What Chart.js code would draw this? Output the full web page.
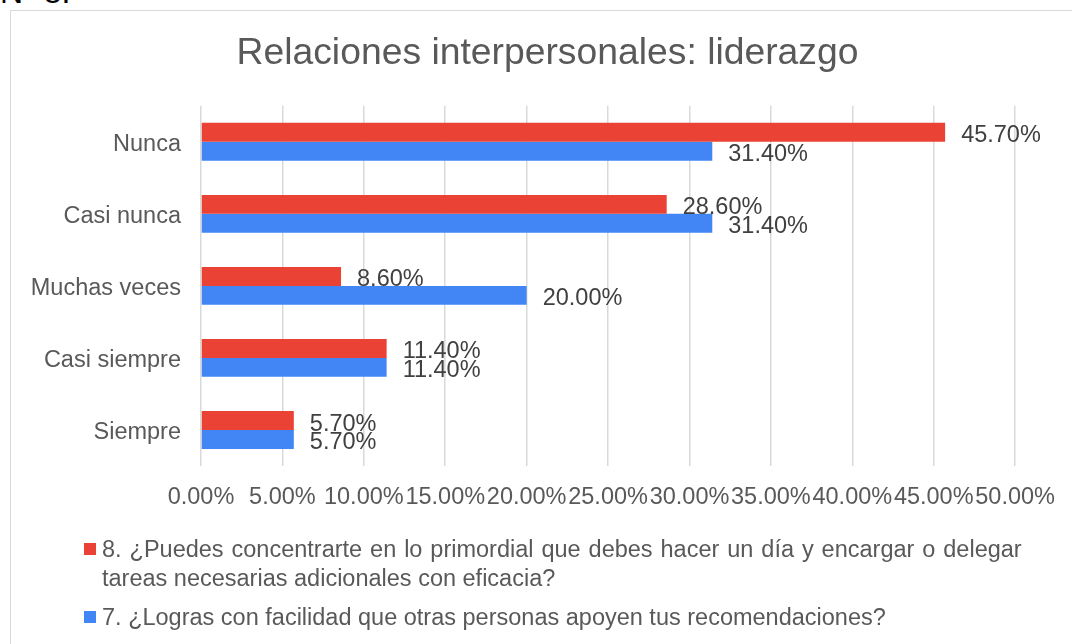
<!DOCTYPE html>
<html>
<head>
<meta charset="utf-8">
<script src="https://cdn.jsdelivr.net/npm/chart.js@4.4.1/dist/chart.umd.min.js"></script>
<style>
  html, body { margin: 0; padding: 0; background: #fff; }
  body { width: 1072px; height: 644px; overflow: hidden; position: relative;
         font-family: 'Liberation Sans', Arial, sans-serif; }
  #frame { position: absolute; left: 10px; top: 10px; width: 1100px; height: 700px;
           border: 1px solid #D9D9D9; box-sizing: border-box; }
  #caption { position: absolute; left: 0; top: -24px; font-size: 32px; line-height: 32px; color: #000; white-space: nowrap; }
  #chart { position: absolute; left: 0; top: 0; }
  #legend { position: absolute; left: 0; top: 0; width: 1072px; color: #595959; font-size: 23.5px; line-height: 29px; }
  .item { position: absolute; left: 102px; white-space: nowrap; }
  .sw { position: absolute; left: -18px; top: 8.5px; width: 12px; height: 12px; }
  .wide { word-spacing: 1.4px; }
</style>
</head>
<body>
<div id="frame"></div>
<div id="caption">Nº 8.</div>
<canvas id="chart" width="1072" height="644"></canvas>
<div id="legend"></div>
<script>
const categories = ['Nunca', 'Casi nunca', 'Muchas veces', 'Casi siempre', 'Siempre'];
const series8Values = [45.7, 28.6, 8.6, 11.4, 5.7];
const series7Values = [31.4, 31.4, 20.0, 11.4, 5.7];
const series8Label = ['8. ¿Puedes concentrarte en lo primordial que debes hacer un día y encargar o delegar', 'tareas necesarias adicionales con eficacia?'];
const series7Label = ['7. ¿Logras con facilidad que otras personas apoyen tus recomendaciones?'];
const xTickValues = [0, 5, 10, 15, 20, 25, 30, 35, 40, 45, 50];
const chartTitle = 'Relaciones interpersonales: liderazgo';

const RED = '#EA4335';
const BLUE = '#4285F4';
const FONT = "'Liberation Sans', Arial, sans-serif";
Chart.defaults.font.family = FONT;

const valueLabels = {
  id: 'valueLabels',
  afterDatasetsDraw(chart) {
    const ctx = chart.ctx;
    ctx.save();
    ctx.font = '23.5px ' + FONT;
    ctx.fillStyle = '#404040';
    ctx.textBaseline = 'middle';
    ctx.textAlign = 'left';
    chart.data.datasets.forEach((ds, i) => {
      chart.getDatasetMeta(i).data.forEach((bar, j) => {
        ctx.fillText(ds.data[j].toFixed(2) + '%', bar.x + 16, bar.y + 3.5);
      });
    });
    ctx.restore();
  }
};

const titleDraw = {
  id: 'titleDraw',
  afterDraw(chart) {
    const ctx = chart.ctx;
    ctx.save();
    ctx.font = '37.3px ' + FONT;
    ctx.fillStyle = '#595959';
    ctx.textBaseline = 'middle';
    ctx.textAlign = 'center';
    ctx.fillText(chartTitle, 547.5, 54);
    ctx.restore();
  }
};

new Chart(document.getElementById('chart'), {
  type: 'bar',
  data: {
    labels: categories,
    datasets: [
      { label: series8Label.join(' '), data: series8Values, backgroundColor: RED, borderWidth: 0,
        categoryPercentage: 0.525, barPercentage: 1.0 },
      { label: series7Label.join(' '), data: series7Values, backgroundColor: BLUE, borderWidth: 0,
        categoryPercentage: 0.525, barPercentage: 1.0 }
    ]
  },
  options: {
    indexAxis: 'y',
    responsive: false,
    animation: false,
    layout: { padding: { top: 105.75, left: 10, right: 56, bottom: 115.8 } },
    plugins: {
      legend: { display: false },
      tooltip: { enabled: false },
      title: { display: false }
    },
    scales: {
      x: {
        min: 0, max: 50,
        afterBuildTicks(scale) { scale.ticks = xTickValues.map(v => ({ value: v })); },
        ticks: {
          callback: v => Number(v).toFixed(2) + '%',
          color: '#595959', font: { size: 23.5 }, padding: 17,
          autoSkip: false, maxRotation: 0, minRotation: 0
        },
        grid: { color: '#D9D9D9', lineWidth: 1.5, drawTicks: false },
        border: { display: false }
      },
      y: {
        afterFit(scale) { scale.width = 191; },
        ticks: { color: '#595959', font: { size: 23.5 }, padding: 20, labelOffset: 2.5 },
        grid: { display: false, drawTicks: false },
        border: { display: false }
      }
    }
  },
  plugins: [valueLabels, titleDraw]
});

// HTML legend (wrapping labels)
const legend = document.getElementById('legend');
function addItem(lines, color, top) {
  const d = document.createElement('div');
  d.className = 'item';
  d.style.top = top + 'px';
  const sw = document.createElement('span');
  sw.className = 'sw';
  sw.style.background = color;
  d.appendChild(sw);
  const first = document.createElement('span');
  if (lines.length > 1) first.className = 'wide';
  first.textContent = lines[0];
  d.appendChild(first);
  for (let k = 1; k < lines.length; k++) {
    d.appendChild(document.createElement('br'));
    d.appendChild(document.createTextNode(lines[k]));
  }
  legend.appendChild(d);
}
addItem(series8Label, RED, 534.5);
addItem(series7Label, BLUE, 602.5);
</script>
</body>
</html>
